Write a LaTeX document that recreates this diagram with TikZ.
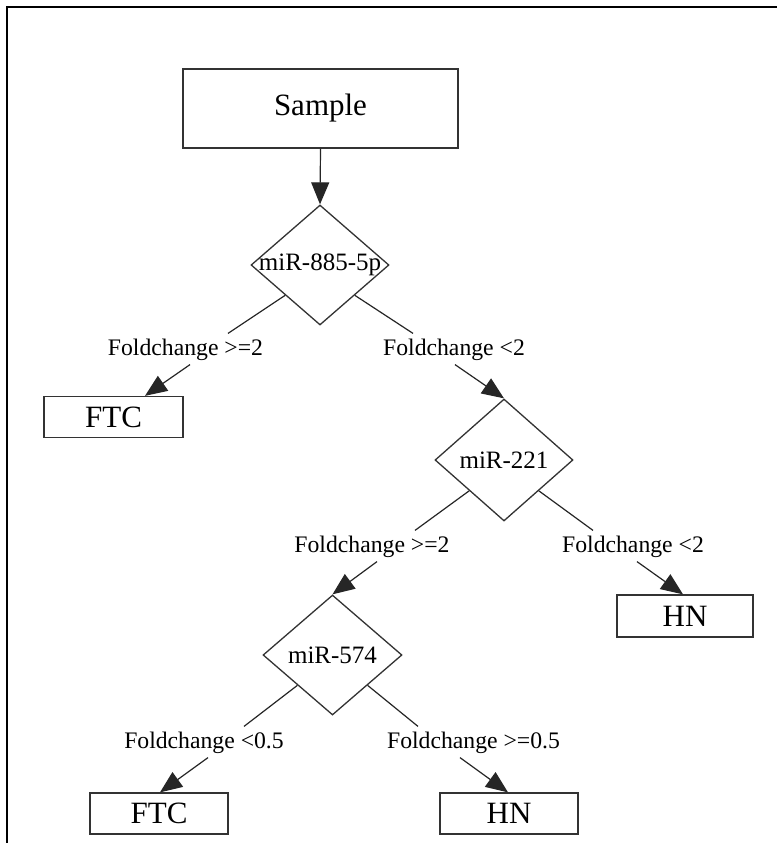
\documentclass[tikz,border=0pt]{standalone}
\usepackage{fontspec}
\setmainfont{Liberation Serif}
\usetikzlibrary{shapes.geometric,arrows.meta,calc}
\begin{document}
\begin{tikzpicture}[x=1pt,y=-1pt,
  line width=1.2pt,
  conn/.style={draw=black!85, line width=1.2pt},
  arr/.style={conn, -{Triangle[length=22pt,width=18pt]}},
  box/.style={draw=black!80, line width=1.3pt, fill=white, inner sep=0pt,
    minimum width=#1, minimum height=41pt, font=\fontsize{31}{34}\selectfont},
  decision/.style={diamond, draw=black!80, line width=1.3pt, fill=white, inner sep=0pt,
    minimum width=138pt, minimum height=120pt, font=\fontsize{25}{27}\selectfont},
  lbl/.style={inner xsep=0pt, inner ysep=4pt, text height=17pt, text depth=5pt,
    font=\fontsize{23.7}{26}\selectfont}
]
\useasboundingbox (0,0) rectangle (777,843);
\fill[white] (0,0) rectangle (777,843);
% frame
\draw[line width=2pt, black] (7,843) -- (7,7) -- (777,7);

% nodes
\node[box=275pt, minimum height=79pt] (sample) at (320.5,108.5) {Sample};
\node[decision] (d1) at (320,265) {\makebox[0pt]{miR-885-5p}};
\node[lbl] (l1) at (185.5,349) {Foldchange >=2};
\node[lbl] (l2) at (454,349) {Foldchange <2};
\node[box=139pt] (ftc1) at (113.5,417) {FTC};
\node[decision, minimum height=122pt] (d2) at (504,460) {\makebox[0pt]{miR-221}};
\node[lbl] (l3) at (372,546) {Foldchange >=2};
\node[lbl] (l4) at (633,546) {Foldchange <2};
\node[box=136pt, minimum height=42pt] (hn1) at (685,616) {HN};
\node[decision, minimum width=139pt] (d3) at (332.5,655) {\makebox[0pt]{miR-574}};
\node[lbl] (l5) at (204,742) {Foldchange <0.5};
\node[lbl] (l6) at (473.5,742) {Foldchange >=0.5};
\node[box=138pt] (ftc2) at (159,813.5) {FTC};
\node[box=138pt] (hn2) at (509,813.5) {HN};

% connectors
\draw[arr] (sample.south) -- (d1.north);

\draw[conn] ($(d1.west)!0.5!(d1.south)$) -- ([xshift=42.5pt]l1.north);
\draw[arr] ([xshift=4.5pt]l1.south) -- ([xshift=31.5pt]ftc1.north);

\draw[conn] ($(d1.east)!0.5!(d1.south)$) -- ([xshift=-41pt]l2.north);
\draw[arr] ([xshift=1pt]l2.south) -- (d2.north);

\draw[conn] ($(d2.west)!0.5!(d2.south)$) -- ([xshift=43pt]l3.north);
\draw[arr] ([xshift=5pt]l3.south) -- (d3.north);

\draw[conn] ($(d2.east)!0.5!(d2.south)$) -- ([xshift=-40pt]l4.north);
\draw[arr] ([xshift=4pt]l4.south) -- ([xshift=-2pt]hn1.north);

\draw[conn] ($(d3.west)!0.5!(d3.south)$) -- ([xshift=40pt]l5.north);
\draw[arr] ([xshift=4pt]l5.south) -- ([xshift=1pt]ftc2.north);

\draw[conn] ($(d3.east)!0.5!(d3.south)$) -- ([xshift=-55.5pt]l6.north);
\draw[arr] ([xshift=-13.5pt]l6.south) -- ([xshift=-1pt]hn2.north);
\end{tikzpicture}
\end{document}
